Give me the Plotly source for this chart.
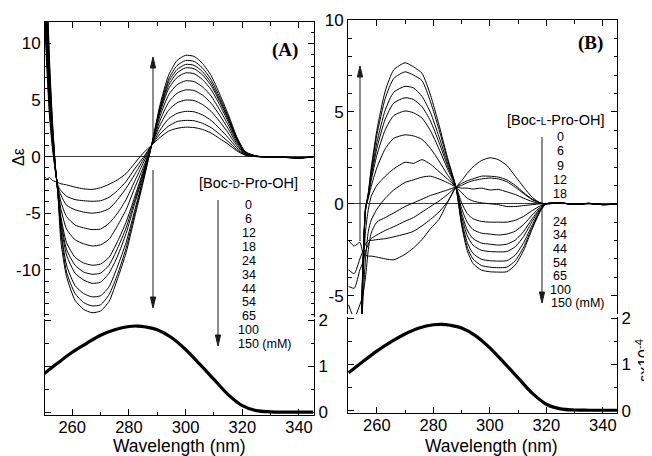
import plotly.graph_objects as go

W, H = 652, 456
OFF = 8  # page body margin: figure origin sits 8 px right/down of the window corner

# ---------------- Panel A (Boc-D-Pro-OH) CD spectra ----------------
wl_A = [250, 251, 252, 253, 254, 255, 256, 258, 261, 264, 267, 270, 273, 276, 279, 282, 285,
        288, 291, 294, 297, 300, 303, 306, 309, 312, 315, 318, 321, 325, 330, 335, 340, 345]
cdA_0 = [-1.7, -2.0, -1.85, -2.1, -2.2, -2.3, -2.4, -2.5, -2.7, -2.85, -2.9, -2.75, -2.45, -2.05, -1.5, -0.6, 0.3,
         1.0, 1.7, 2.25, 2.5, 2.6, 2.57, 2.4, 2.08, 1.6, 1.1, 0.52, 0.13, 0.0, -0.05, -0.08, -0.12, -0.05]
cdA_6 = [14, 8, 3.5, 0.8, -1.2, -2.6, -3.0, -3.5, -3.8, -3.9, -3.95, -3.9, -3.6, -3.0, -2.2, -1.1, -0.1,
         1.0, 2.0, 2.7, 3.1, 3.2, 3.17, 2.94, 2.56, 1.98, 1.34, 0.64, 0.16, 0.0, -0.04, -0.08, -0.1, -0.04]
cdA_12 = [15.1, 8.9, 4.1, 1.1, -1.1, -2.7, -3.4, -4.3, -4.7, -4.9, -5.0, -4.9, -4.6, -3.8, -2.8, -1.6, -0.3,
          1.0, 2.35, 3.34, 3.82, 4.0, 3.96, 3.68, 3.2, 2.48, 1.68, 0.8, 0.2, 0.02, -0.03, -0.07, -0.1, -0.05]
cdA_18 = [16.2, 9.8, 4.6, 1.35, -1.07, -2.8, -4.0, -5.3, -6.05, -6.3, -6.45, -6.4, -5.9, -5.0, -3.8, -2.2, -0.6,
          1.0, 2.8, 4.1, 4.76, 5.0, 4.95, 4.6, 4.0, 3.1, 2.1, 1.0, 0.25, 0.02, -0.02, -0.06, -0.11, -0.04]
cdA_24 = [17.3, 10.7, 5.2, 1.6, -1.0, -2.95, -4.6, -6.4, -7.35, -7.7, -7.9, -7.8, -7.3, -6.1, -4.7, -2.8, -1.0,
          1.0, 3.2, 4.8, 5.6, 5.9, 5.84, 5.43, 4.72, 3.66, 2.48, 1.18, 0.3, 0.03, -0.03, -0.07, -0.1, -0.05]
cdA_34 = [18.4, 11.5, 5.7, 1.9, -0.9, -3.1, -5.3, -7.6, -8.9, -9.4, -9.6, -9.5, -8.9, -7.5, -5.8, -3.6, -1.3,
          1.0, 3.6, 5.45, 6.36, 6.7, 6.63, 6.16, 5.36, 4.15, 2.81, 1.34, 0.34, 0.03, -0.02, -0.06, -0.1, -0.04]
cdA_44 = [19.6, 12.5, 6.3, 2.2, -0.85, -3.2, -5.6, -8.2, -9.6, -10.2, -10.4, -10.3, -9.6, -8.1, -6.3, -3.9, -1.5,
          1.0, 3.9, 6.0, 7.0, 7.4, 7.33, 6.8, 5.92, 4.59, 3.1, 1.48, 0.37, 0.04, -0.02, -0.07, -0.11, -0.05]
cdA_54 = [20.7, 13.4, 6.85, 2.5, -0.8, -3.3, -5.9, -8.7, -10.3, -10.9, -11.2, -11.1, -10.3, -8.8, -6.8, -4.2, -1.7,
          1.0, 4.1, 6.3, 7.4, 7.85, 7.77, 7.22, 6.28, 4.87, 3.3, 1.57, 0.39, 0.04, -0.02, -0.06, -0.1, -0.04]
cdA_65 = [21.8, 14.2, 7.4, 2.75, -0.75, -3.4, -6.4, -9.6, -11.4, -12.1, -12.4, -12.3, -11.5, -9.7, -7.6, -4.8, -1.95,
          1.0, 4.2, 6.6, 7.7, 8.15, 8.07, 7.5, 6.52, 5.05, 3.42, 1.63, 0.41, 0.04, -0.03, -0.07, -0.12, -0.05]
cdA_100 = [22.9, 15.1, 7.95, 3.0, -0.7, -3.5, -6.7, -10.2, -12.1, -12.9, -13.2, -13.1, -12.2, -10.4, -8.1, -5.1, -2.1,
           1.0, 4.4, 6.85, 8.05, 8.5, 8.42, 7.82, 6.8, 5.27, 3.57, 1.7, 0.43, 0.04, -0.02, -0.06, -0.1, -0.05]
cdA_150 = [24, 16, 8.5, 3.3, -0.6, -3.5, -7.5, -10.6, -12.7, -13.5, -13.8, -13.65, -12.8, -10.8, -8.5, -5.4, -2.3,
           1.0, 4.6, 7.2, 8.5, 8.95, 8.86, 8.23, 7.16, 5.55, 3.76, 1.79, 0.45, 0.04, -0.02, -0.07, -0.11, -0.05]
conc_A = ["0", "6", "12", "18", "24", "34", "44", "54", "65", "100", "150 (mM)"]

# ---------------- Panel B (Boc-L-Pro-OH) CD spectra ----------------
wl_B = [250, 252, 254, 255, 256, 257, 258, 260, 263, 266, 270, 273, 276, 279, 282, 285, 288,
        290, 292, 294, 297, 300, 303, 306, 309, 312, 315, 318, 320, 325, 330, 335, 340, 345]
cdB_0 = [-2.0, -2.3, -2.1, -2.6, -2.8, -2.85, -2.85, -2.9, -3.0, -3.05, -2.75, -2.4, -1.95, -1.35, -0.85, 0.05, 0.9,
         1.25, 1.65, 2.0, 2.35, 2.5, 2.4, 2.08, 1.5, 0.9, 0.35, 0.03, 0.0, 0.05, -0.04, 0.02, -0.05, -0.02]
cdB_6 = [-3.6, -3.8, -3.0, -2.6, -2.2, -2.0, -2.0, -1.95, -1.9, -1.8, -1.65, -1.5, -1.2, -0.85, -0.45, 0.1, 0.9,
         1.1, 1.25, 1.35, 1.5, 1.5, 1.45, 1.3, 1.0, 0.6, 0.25, 0.05, 0.0, 0.03, -0.03, 0.0, -0.04, -0.02]
cdB_9 = [-4.5, -4.6, -3.6, -3.2, -2.6, -2.2, -1.9, -1.7, -1.45, -1.25, -0.95, -0.75, -0.45, -0.15, 0.15, 0.5, 0.9,
         1.0, 1.15, 1.25, 1.35, 1.4, 1.35, 1.2, 0.9, 0.55, 0.22, 0.04, 0.0, 0.04, -0.02, 0.01, -0.05, -0.01]
cdB_12 = [-5.5, -6.2, -5.5, -5.0, -4.0, -2.5, -1.6, -1.0, -0.75, -0.5, -0.15, 0.05, 0.25, 0.45, 0.6, 0.75, 0.9,
          0.85, 0.85, 0.8, 0.85, 0.75, 0.78, 0.65, 0.5, 0.3, 0.12, 0.02, 0.0, 0.03, -0.03, 0.02, -0.04, -0.02]
cdB_18 = [-9, -9, -8, -5.5, -3.0, -1.5, -0.9, -0.3, 0.3, 0.75, 1.16, 1.3, 1.45, 1.5, 1.35, 1.15, 0.9,
          0.6, 0.3, 0.15, 0.05, 0.0, -0.05, -0.15, -0.15, -0.1, -0.05, 0.0, 0.0, 0.03, -0.02, 0.02, -0.04, -0.02]
cdB_24 = [-9, -9, -8, -4.5, -1.5, -0.3, 0.4, 1.0, 1.5, 1.9, 2.26, 2.2, 2.4, 2.15, 1.75, 1.35, 0.9,
          0.05, -0.53, -0.81, -0.96, -1.0, -1.0, -1.0, -0.9, -0.68, -0.37, -0.1, 0.0, 0.04, -0.03, 0.02, -0.05, -0.02]
cdB_34 = [-9, -9, -8, -4.2, -0.19, 0.3, 0.94, 1.95, 3.0, 3.56, 3.75, 3.69, 3.5, 3.01, 2.33, 1.58, 0.9,
          -0.25, -1.01, -1.4, -1.6, -1.65, -1.7, -1.65, -1.49, -1.12, -0.61, -0.17, 0.0, 0.03, -0.02, 0.02, -0.04, -0.01]
cdB_44 = [-9, -9, -8, -4.0, -0.25, 0.4, 1.26, 2.63, 4.04, 4.8, 5.05, 4.95, 4.66, 3.97, 2.98, 1.9, 0.9,
          -0.5, -1.43, -1.89, -2.14, -2.2, -2.25, -2.2, -1.98, -1.5, -0.81, -0.22, 0.0, 0.04, -0.03, 0.02, -0.05, -0.02]
cdB_54 = [-9, -9, -8, -3.9, -0.29, 0.46, 1.44, 3.0, 4.62, 5.48, 5.77, 5.67, 5.28, 4.5, 3.34, 2.07, 0.9,
          -0.68, -1.73, -2.25, -2.53, -2.6, -2.62, -2.6, -2.34, -1.77, -0.96, -0.26, 0.0, 0.03, -0.02, 0.01, -0.04, -0.02]
cdB_65 = [-9, -9, -8, -3.8, -0.32, 0.51, 1.6, 3.32, 5.11, 6.07, 6.39, 6.3, 5.84, 4.96, 3.65, 2.22, 0.9,
          -0.9, -2.1, -2.7, -3.02, -3.1, -3.12, -3.1, -2.79, -2.11, -1.15, -0.31, 0.0, 0.04, -0.03, 0.02, -0.05, -0.02]
cdB_100 = [-9, -9, -8, -3.6, -0.36, 0.57, 1.8, 3.73, 5.74, 6.82, 7.18, 7.0, 6.7, 5.55, 4.04, 2.41, 0.9,
           -1.06, -2.36, -3.0, -3.36, -3.45, -3.48, -3.45, -3.1, -2.35, -1.28, -0.35, 0.0, 0.03, -0.02, 0.01, -0.04, -0.02]
cdB_150 = [-9, -9, -8, -3.5, -0.38, 0.61, 1.92, 3.99, 6.14, 7.29, 7.67, 7.45, 7.1, 5.91, 4.29, 2.52, 0.9,
           -1.17, -2.55, -3.24, -3.61, -3.7, -3.72, -3.7, -3.33, -2.52, -1.37, -0.37, 0.0, 0.04, -0.03, 0.02, -0.05, -0.02]
conc_B = ["0", "6", "9", "12", "18", "24", "34", "44", "54", "65", "100", "150 (mM)"]

# ---------------- Absorption spectra (bottom panels), eps x 1e-4 ----------------
wl_abs = [250, 255, 260, 265, 270, 275, 280, 283, 286, 290, 295, 300, 305, 310, 315, 320, 325, 330, 335, 340, 345]
abs_A = [0.84, 1.08, 1.31, 1.5, 1.68, 1.8, 1.87, 1.88, 1.86, 1.8, 1.63, 1.37, 1.05, 0.72, 0.39, 0.15, 0.04, 0.015, 0.01, 0.01, 0.01]
abs_B = [0.82, 1.06, 1.29, 1.49, 1.66, 1.79, 1.86, 1.87, 1.85, 1.79, 1.62, 1.36, 1.04, 0.71, 0.38, 0.14, 0.04, 0.015, 0.01, 0.01, 0.01]

# ---------------- helpers (window pixel -> paper fraction) ----------------
def PX(x):
    return (x - OFF) / W


def PY(y):
    return 1 - (y - OFF) / H


FONT = "Liberation Sans, Arial, sans-serif"
SERIF = "Liberation Serif, Times New Roman, serif"

fig = go.Figure()

for ys in [cdA_0, cdA_6, cdA_12, cdA_18, cdA_24, cdA_34, cdA_44, cdA_54, cdA_65, cdA_100, cdA_150]:
    fig.add_trace(go.Scatter(x=wl_A, y=ys, mode="lines", xaxis="x", yaxis="y",
                             line=dict(color="black", width=1, shape="spline", smoothing=0.6),
                             showlegend=False, hoverinfo="skip"))
fig.add_trace(go.Scatter(x=wl_abs, y=abs_A, mode="lines", xaxis="x2", yaxis="y2",
                         line=dict(color="black", width=3.2, shape="spline"),
                         showlegend=False, hoverinfo="skip"))
for ys in [cdB_0, cdB_6, cdB_9, cdB_12, cdB_18, cdB_24, cdB_34, cdB_44, cdB_54, cdB_65, cdB_100, cdB_150]:
    fig.add_trace(go.Scatter(x=wl_B, y=ys, mode="lines", xaxis="x3", yaxis="y3",
                             line=dict(color="black", width=1, shape="spline", smoothing=0.6),
                             showlegend=False, hoverinfo="skip"))
fig.add_trace(go.Scatter(x=wl_abs, y=abs_B, mode="lines", xaxis="x4", yaxis="y4",
                         line=dict(color="black", width=3.2, shape="spline"),
                         showlegend=False, hoverinfo="skip"))

xdomA = [PX(45), PX(314)]
xdomB = [PX(348), PX(617)]

common = dict(showline=True, linecolor="black", linewidth=1, ticks="inside", tickcolor="black",
              ticklen=6, tickwidth=1, showgrid=False, automargin=False,
              tickfont=dict(family=FONT, size=17, color="black"))
xminor = dict(ticks="inside", ticklen=3.5, tickcolor="black", dtick=10, tick0=250, showgrid=False)
xticks = dict(tickmode="array", tickvals=[260, 280, 300, 320, 340], ticktext=["260", "280", "300", "320", "340"])
xbottom = dict(common, tickfont=dict(family=FONT, size=16.5, color="black"), ticklabelstandoff=-3)

fig.update_layout(
    width=W, height=H, margin=dict(l=0, r=0, t=0, b=0, pad=0, autoexpand=False),
    paper_bgcolor="white", plot_bgcolor="white",
    font=dict(family=FONT, size=16, color="black"),
    # panel A top
    xaxis=dict(domain=xdomA, range=[250.4, 345.3], anchor="y", side="top", showticklabels=False,
               zeroline=False, minor=xminor, **xticks, **common),
    yaxis=dict(domain=[PY(317), PY(22)], range=[-14.18, 11.9], anchor="x", mirror="ticks",
               tickmode="array", tickvals=[-10, -5, 0, 5, 10], ticktext=["-10", "-5", "0", "5", "10"],
               zeroline=True, zerolinecolor="#3a3a3a", zerolinewidth=1,
               minor=dict(ticks="inside", ticklen=3.5, tickcolor="black", dtick=1, tick0=0, showgrid=False),
               **common),
    # panel A bottom
    xaxis2=dict(domain=xdomA, range=[250.4, 345.3], anchor="y2", side="bottom", zeroline=False,
                minor=xminor, **xticks, **xbottom),
    yaxis2=dict(domain=[PY(415), PY(319)], range=[-0.054, 2.033], anchor="x2", side="right", mirror="ticks",
                tickmode="array", tickvals=[0, 1, 2], ticktext=["0", "1", "2"], zeroline=False,
                minor=dict(ticks="inside", ticklen=3.5, tickcolor="black", dtick=0.5, tick0=0, showgrid=False),
                **common),
    # panel B top
    xaxis3=dict(domain=xdomB, range=[249.8, 345.0], anchor="y3", side="top", showticklabels=False,
                zeroline=False, minor=xminor, **xticks, **common),
    yaxis3=dict(domain=[PY(314), PY(20)], range=[-6.0, 10.0], anchor="x3", mirror="ticks",
                tickmode="array", tickvals=[-5, 0, 5, 10], ticktext=["-5", "0", "5", "10"],
                zeroline=True, zerolinecolor="#3a3a3a", zerolinewidth=1,
                minor=dict(ticks="inside", ticklen=3.5, tickcolor="black", dtick=1, tick0=0, showgrid=False),
                **common),
    # panel B bottom
    xaxis4=dict(domain=xdomB, range=[249.8, 345.0], anchor="y4", side="bottom", zeroline=False,
                minor=xminor, **xticks, **xbottom),
    yaxis4=dict(domain=[PY(413), PY(317)], range=[-0.05, 2.028], anchor="x4", side="right", mirror="ticks",
                tickmode="array", tickvals=[0, 1, 2], ticktext=["0", "1", "2"], zeroline=False,
                minor=dict(ticks="inside", ticklen=3.5, tickcolor="black", dtick=0.5, tick0=0, showgrid=False),
                **common),
)

ann = []


def txt(x, y, s, size=16, xanchor="center", family=FONT, angle=0, bold=False):
    ann.append(dict(x=PX(x), y=PY(y), xref="paper", yref="paper", text=("<b>%s</b>" % s) if bold else s,
                    showarrow=False, xanchor=xanchor, yanchor="middle", textangle=angle,
                    borderpad=0, font=dict(family=family, size=size, color="black")))


# axis titles
txt(19, 157, "Δε", size=16, angle=-90)
txt(179, 446, "Wavelength (nm)", size=17.5)
txt(491, 446, "Wavelength (nm)", size=17.5)
txt(643, 361, "εx10<sup>-4</sup>", size=16, angle=-90)
# panel labels
txt(285, 50, "(A)", size=19, family=SERIF, bold=True)
txt(590, 43, "(B)", size=19, family=SERIF, bold=True)

# legend-like labels
txt(248, 183, '[Boc-<span style="font-size:10px">D</span>-Pro-OH]', size=14.5)
ya = [205, 219, 233, 247, 261, 275, 289, 302, 316, 330, 344]
for lab, yy in zip(conc_A, ya):
    if "mM" in lab:
        txt(237, yy, lab, size=12.5, xanchor="left")
    else:
        txt(249, yy, lab, size=12.5)

txt(555, 120, '[Boc-<span style="font-size:10px">L</span>-Pro-OH]', size=14.5)
yb = [137, 151, 166, 180, 194, 222, 235, 249, 263, 276, 290, 303]
for lab, yy in zip(conc_B, yb):
    if "mM" in lab:
        txt(550, yy, lab, size=12.5, xanchor="left")
    else:
        txt(560, yy, lab, size=12.5)

fig.update_layout(annotations=ann)

# arrows (vertical), drawn as line + slim filled head, in window-pixel -> paper coords
shapes = []


def arrow(x, y_tail, y_tip, color="#1a1a1a"):
    d = 1 if y_tip > y_tail else -1  # +1 pointing down
    hl, hw = 11, 2.6
    base = y_tip - d * hl
    shapes.append(dict(type="line", xref="paper", yref="paper", x0=PX(x), x1=PX(x), y0=PY(y_tail), y1=PY(base),
                       line=dict(color=color, width=1)))
    path = "M %f,%f L %f,%f L %f,%f Z" % (PX(x - hw), PY(base), PX(x + hw), PY(base), PX(x), PY(y_tip))
    shapes.append(dict(type="path", xref="paper", yref="paper", path=path, fillcolor=color,
                       line=dict(color=color, width=1)))


arrow(153, 138, 57)
arrow(153, 170, 308)
arrow(218, 200, 346)
arrow(360, 241, 66)
arrow(542, 137, 303)
fig.update_layout(shapes=shapes)

fig.write_html("out.html")
